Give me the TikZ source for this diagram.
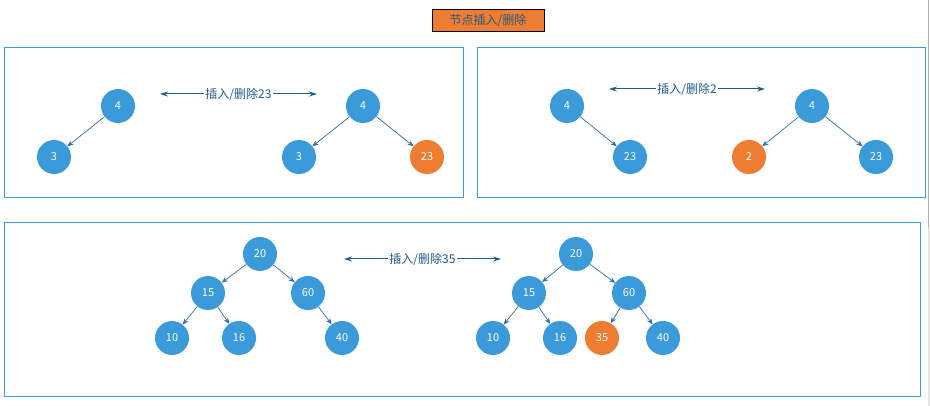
\documentclass[tikz,border=0pt]{standalone}
\usepackage{fontspec}
\setmainfont{Noto Sans CJK SC}
\usetikzlibrary{arrows.meta}
\definecolor{nodeblue}{HTML}{3A9ADA}
\definecolor{nodeorange}{HTML}{EE7D31}
\definecolor{panelblue}{HTML}{3A9ADA}
\definecolor{edgeblue}{HTML}{2F6FA6}
\definecolor{textblue}{HTML}{1F5C8C}
\tikzset{
  tn/.style={circle,fill=nodeblue,minimum size=34pt,inner sep=0pt,text=white,font=\fontsize{11}{12}\selectfont},
  tno/.style={tn,fill=nodeorange},
  edge/.style={draw=edgeblue,line width=0.7pt,-{Stealth[length=6pt,width=5pt]}},
  panel/.style={draw=panelblue,line width=1pt},
  dbl/.style={draw=textblue,line width=1pt,{Stealth[length=8pt,width=5pt]}-{Stealth[length=8pt,width=5pt]}},
  lbl/.style={fill=white,text=textblue,inner sep=1pt,font=\fontsize{12}{14}\selectfont}
}
\begin{document}
\begin{tikzpicture}[x=1pt,y=-1pt]
\useasboundingbox (0,0) rectangle (930,406);
\fill[white] (0,0) rectangle (930,406);
% scrollbar edge
\draw[draw=black!30,line width=1pt] (928.5,0) -- (928.5,228);
\draw[draw=black!10,line width=2pt] (929,228) -- (929,406);
% title
\node[draw=black,fill=nodeorange,line width=0.8pt,minimum width=112pt,minimum height=22pt,inner sep=0pt,text=textblue,font=\fontsize{12}{14}\selectfont] (title) at (488,20) {节点插入/删除};
% panels
\draw[panel] (4.5,47.5) rectangle (463,198);
\draw[panel] (477,47.5) rectangle (925,198);
\draw[panel] (4.5,222.5) rectangle (920,396);
% panel 1
\node[tn] (a4) at (118,106) {4};
\node[tn] (a3) at (54,157) {3};
\draw[edge] (a4) -- (a3);
\node[tn] (b4) at (363,106) {4};
\node[tn] (b3) at (299,157) {3};
\node[tno] (b23) at (427,157) {23};
\draw[edge] (b4) -- (b3);
\draw[edge] (b4) -- (b23);
\coordinate (l1) at (160,94);
\coordinate (r1) at (317,94);
\draw[dbl] (l1) -- (r1) node[midway,lbl] (t1) {插入/删除23};
% panel 2
\node[tn] (c4) at (567,106) {4};
\node[tn] (c23) at (630,157) {23};
\draw[edge] (c4) -- (c23);
\node[tn] (d4) at (812,106) {4};
\node[tno] (d2) at (749,157) {2};
\node[tn] (d23) at (876,157) {23};
\draw[edge] (d4) -- (d2);
\draw[edge] (d4) -- (d23);
\coordinate (l2) at (609,89);
\coordinate (r2) at (765,89);
\draw[dbl] (l2) -- (r2) node[midway,lbl] (t2) {插入/删除2};
% panel 3 left
\node[tn] (e20) at (260,254) {20};
\node[tn] (e15) at (208,293) {15};
\node[tn] (e60) at (308,293) {60};
\node[tn] (e10) at (172,338) {10};
\node[tn] (e16) at (239,338) {16};
\node[tn] (e40) at (342,338) {40};
\draw[edge] (e20) -- (e15);
\draw[edge] (e20) -- (e60);
\draw[edge] (e15) -- (e10);
\draw[edge] (e15) -- (e16);
\draw[edge] (e60) -- (e40);
\coordinate (l3) at (344,259);
\coordinate (r3) at (501,259);
\draw[dbl] (l3) -- (r3) node[midway,lbl] (t3) {插入/删除35};
% panel 3 right
\node[tn] (f20) at (576,254) {20};
\node[tn] (f15) at (529,293) {15};
\node[tn] (f60) at (629,293) {60};
\node[tn] (f10) at (493,338) {10};
\node[tn] (f16) at (560,338) {16};
\node[tno] (f35) at (602,338) {35};
\node[tn] (f40) at (663,338) {40};
\draw[edge] (f20) -- (f15);
\draw[edge] (f20) -- (f60);
\draw[edge] (f15) -- (f10);
\draw[edge] (f15) -- (f16);
\draw[edge] (f60) -- (f35);
\draw[edge] (f60) -- (f40);
\end{tikzpicture}
\end{document}
